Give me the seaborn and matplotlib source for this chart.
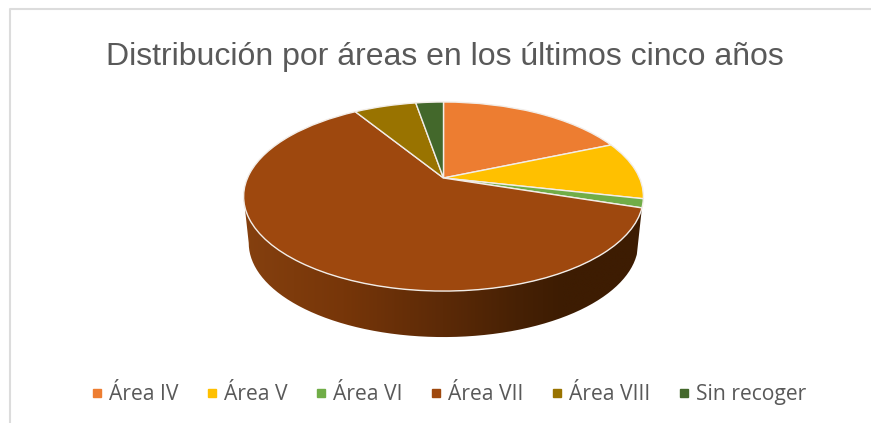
import numpy as np
import matplotlib
matplotlib.use("Agg")
import matplotlib.pyplot as plt
import seaborn as sns
from matplotlib.lines import Line2D
from matplotlib.path import Path
from matplotlib.patches import PathPatch
from matplotlib.transforms import Transform
from matplotlib.colors import LinearSegmentedColormap

title = "Distribución por áreas en los últimos cinco años"
categories = ["Área IV", "Área V", "Área VI", "Área VII", "Área VIII", "Sin recoger"]
values = [18.6, 9.9, 1.5, 61.2, 6.1, 2.7]
colors = ["#ED7D31", "#FFC000", "#70AD47", "#9E480E", "#997300", "#43682B"]
wall_stops = [(0.0, "#85400F"), (0.25, "#773609"), (0.5, "#5C2A07"), (0.7, "#452004"),
              (0.8, "#3D1C02"), (1.0, "#3D1C02")]

sns.set_theme(style="white")
palette = sns.color_palette(colors)
GREY = "#595959"


class Tilt(Transform):
    """Perspective view of the unit-circle pie on a tilted table, in pixel coordinates."""
    input_dims = output_dims = 2
    is_affine = False
    has_inverse = False

    def __init__(self, cx, cy, rx, ry, k=0.196):
        super().__init__()
        self.cx, self.cy, self.rx, self.ry, self.k = cx, cy, rx, ry, k

    def transform_non_affine(self, xy):
        xy = np.asarray(xy, float)
        d = 1 + self.k * xy[:, 1]
        return np.column_stack([self.cx + self.rx * xy[:, 0] / d,
                                self.cy - self.ry * xy[:, 1] / d])


fig = plt.figure(figsize=(8.71, 4.23), dpi=100, facecolor="white")
ax = fig.add_axes([0, 0, 1, 1])

top = Tilt(443.5, 178, 196, 90.9)
base = Tilt(443.5, 224.5, 191, 90.5)

wedges, _ = ax.pie(values, colors=palette, startangle=90, counterclock=False,
                   wedgeprops=dict(edgecolor="#F2EDE8", linewidth=1.0, zorder=3))
for w in wedges:
    w.set_transform(top + ax.transData)

# side wall of the large slice: from the slice's right end, round the front, to the left extreme
frac_before = sum(values[:3]) / sum(values)
t_right = np.pi / 2 - 2 * np.pi * frac_before
t_left = -np.pi + np.arcsin(0.196)
t = np.linspace(t_right, t_left, 200)
unit = np.column_stack([np.cos(t), np.sin(t)])
outline = np.vstack([top.transform(unit), base.transform(unit[::-1]), top.transform(unit[:1])])
wall_clip = PathPatch(Path(outline), transform=ax.transData, facecolor="none", edgecolor="none")
ax.add_patch(wall_clip)
cmap = LinearSegmentedColormap.from_list("wall", wall_stops)
grad = np.linspace(0, 1, 256).reshape(1, -1)
img = ax.imshow(grad, cmap=cmap, extent=(243, 643, 340, 190), aspect="auto", zorder=1,
                interpolation="bilinear")
img.set_clip_path(wall_clip)

ax.set_aspect("auto")
ax.set_xlim(0, 871)
ax.set_ylim(423, 0)
ax.set_axis_off()

# chart frame (top and left edges are visible in the crop)
ax.add_line(Line2D([10, 10, 871], [423, 9.5, 9.5], color="#DCDCDC", lw=1.5, zorder=0))

ax.text(445, 57, title, ha="center", va="center", color=GREY,
        fontsize=23.05, family="Liberation Sans")

handles = [Line2D([], [], linestyle="none", marker="s", markersize=6, color=c) for c in palette]
ax.legend(handles, categories, ncol=6, loc="center", bbox_to_anchor=(449.5, 394.5),
          bbox_transform=ax.transData, frameon=False, handlelength=0.4, handletextpad=0.38,
          columnspacing=1.38, labelcolor=GREY, prop=dict(family="Open Sans", size=15.2))

fig.savefig("out.png", dpi=100)
